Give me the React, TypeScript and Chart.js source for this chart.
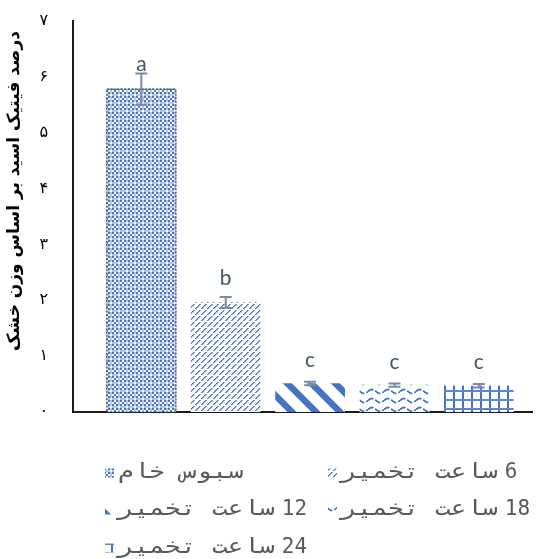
import { useEffect, useRef } from 'react';
import { Chart, registerables } from 'chart.js';

Chart.register(...registerables);

// Phytic acid content (% of dry weight) of raw bran and fermented bran
const categories = ['سبوس خام', '6 ساعت تخمیر', '12 ساعت تخمیر', '18 ساعت تخمیر', '24 ساعت تخمیر'];
const phyticAcid = [5.78, 1.96, 0.51, 0.48, 0.47];
const errors = [0.28, 0.1, 0.03, 0.03, 0.03];
const groupLetters = ['a', 'b', 'c', 'c', 'c'];
const yTickLabels = ['۰', '۱', '۲', '۳', '۴', '۵', '۶', '۷'];
const yTitle = 'درصد فیتیک اسید بر اساس وزن خشک';

const BLUE = '#4472C4';
const LIGHT = '#8FAADC';
const letterLift = [3, 12, 15, 15, 15];

function tile(w: number, h: number, paint: (g: CanvasRenderingContext2D) => void) {
  const c = document.createElement('canvas');
  c.width = w;
  c.height = h;
  const g = c.getContext('2d')!;
  g.fillStyle = '#fff';
  g.fillRect(0, 0, w, h);
  paint(g);
  return c;
}

function buildFills(ctx: CanvasRenderingContext2D): CanvasPattern[] {
  // small checker board with a light lattice
  const checker = tile(8, 8, (g) => {
    g.fillStyle = BLUE;
    for (let y = 0; y < 8; y += 2)
      for (let x = 0; x < 8; x += 2)
        if ((x / 2 + y / 2) % 2 === 0) g.fillRect(x, y, 2, 2);
    g.fillStyle = '#B4C6E8';
    g.fillRect(0, 6, 8, 2);
    g.fillRect(6, 0, 2, 8);
    g.fillStyle = '#fff';
    g.fillRect(6, 6, 2, 2);
  });
  // dashed upward diagonal
  const diag = tile(6, 6, (g) => {
    for (let i = 0; i < 6; i++) {
      if (i === 2) continue;
      g.fillStyle = BLUE;
      g.fillRect(i, 5 - i, 1, 1);
      g.fillStyle = LIGHT;
      g.fillRect((i + 1) % 6, 5 - i, 1, 1);
    }
  });
  // wide downward diagonal
  const stripe = tile(24, 24, (g) => {
    g.strokeStyle = BLUE;
    g.lineWidth = 6.5;
    for (const x0 of [-24, 0, 24]) {
      g.beginPath();
      g.moveTo(x0 - 4, -4);
      g.lineTo(x0 + 28, 28);
      g.stroke();
    }
  });
  // waves
  const wave = tile(16, 9, (g) => {
    g.strokeStyle = BLUE;
    g.lineWidth = 1.8;
    g.setLineDash([6, 2]);
    g.beginPath();
    for (let x = 0; x <= 16; x += 0.5) {
      const y = 4.5 - 2 * Math.sin((x / 16) * Math.PI * 2);
      if (x === 0) g.moveTo(x, y);
      else g.lineTo(x, y);
    }
    g.stroke();
  });
  // grid
  const grid = tile(9, 9, (g) => {
    g.fillStyle = BLUE;
    g.fillRect(3, 0, 2, 9);
    g.fillStyle = '#5A86D0';
    g.fillRect(0, 3, 9, 2);
  });
  return [checker, diag, stripe, wave, grid].map((c) => ctx.createPattern(c, 'repeat')!);
}

const decorations = {
  id: 'decorations',
  afterDatasetsDraw(chart: any) {
    const { ctx } = chart;
    const y = chart.scales.y;
    const meta = chart.getDatasetMeta(0);
    meta.data.forEach((bar: any, i: number) => {
      const v = phyticAcid[i];
      const e = errors[i];
      // dotted outline on the raw-bran bar
      if (i === 0) {
        ctx.save();
        ctx.strokeStyle = '#3a3a3a';
        ctx.lineWidth = 1.2;
        ctx.setLineDash([2, 1.5]);
        ctx.strokeRect(bar.x - bar.width / 2, bar.y, bar.width, bar.base - bar.y);
        ctx.restore();
      }
      const top = y.getPixelForValue(v + e);
      const bot = y.getPixelForValue(v - e);
      ctx.save();
      ctx.strokeStyle = '#7A8AA6';
      ctx.lineWidth = 2;
      ctx.beginPath();
      ctx.moveTo(bar.x, top);
      ctx.lineTo(bar.x, bot);
      ctx.moveTo(bar.x - 6, top);
      ctx.lineTo(bar.x + 6, top);
      ctx.moveTo(bar.x - 6, bot);
      ctx.lineTo(bar.x + 6, bot);
      ctx.stroke();
      ctx.fillStyle = '#44546A';
      ctx.font = '21px Lato';
      ctx.textAlign = 'center';
      ctx.textBaseline = 'alphabetic';
      ctx.fillText(groupLetters[i], bar.x, top - letterLift[i]);
      ctx.restore();
    });
  },
  afterDraw(chart: any) {
    const { ctx } = chart;
    // vertical axis title
    ctx.save();
    ctx.translate(15, 191);
    ctx.rotate(-Math.PI / 2);
    ctx.direction = 'rtl';
    ctx.font = 'bold 17px "DejaVu Sans"';
    ctx.fillStyle = '#000';
    ctx.textAlign = 'center';
    ctx.textBaseline = 'middle';
    ctx.fillText(yTitle, 0, 0);
    ctx.restore();

    // legend in two columns; the hour count sits to the right of the words,
    // and the Arabic words use wider monospace cells than the digits
    const fills = chart.data.datasets[0].backgroundColor;
    const colX = [105, 328];
    const rowY = [473, 510, 548];
    const wordStretch = 1.24;
    chart.data.labels.forEach((label: string, i: number) => {
      const x = colX[i % 2];
      const yy = rowY[Math.floor(i / 2)];
      const m = label.match(/^(\d+)\s+(.*)$/);
      const words = m ? m[2] : label;
      ctx.save();
      ctx.fillStyle = fills[i];
      ctx.fillRect(x, yy - 4.5, 9, 9);
      ctx.font = '21px "DejaVu Sans Mono"';
      ctx.fillStyle = '#595959';
      ctx.textAlign = 'left';
      ctx.textBaseline = 'middle';
      ctx.direction = 'rtl';
      const w = ctx.measureText(words).width * wordStretch;
      ctx.save();
      ctx.translate(x + 13, yy);
      ctx.scale(wordStretch, 1);
      ctx.fillText(words, 0, 0);
      ctx.restore();
      if (m) {
        ctx.direction = 'ltr';
        ctx.fillText(m[1], x + 13 + w + 7, yy);
      }
      ctx.restore();
    });
  },
};

export default function App() {
  const ref = useRef<HTMLCanvasElement>(null);

  useEffect(() => {
    const canvas = ref.current!;
    const ctx = canvas.getContext('2d')!;
    const fills = buildFills(ctx);
    const chart = new Chart(ctx, {
      type: 'bar',
      data: {
        labels: categories,
        datasets: [
          {
            data: phyticAcid.map((v, i) => ({ x: i, y: v })),
            backgroundColor: fills,
            borderWidth: 0,
            barThickness: 69,
          },
        ],
      },
      options: {
        responsive: false,
        devicePixelRatio: 1,
        animation: false,
        layout: { padding: { top: 21, bottom: 147, right: 8, left: 0 } },
        plugins: { legend: { display: false }, tooltip: { enabled: false } },
        scales: {
          x: {
            type: 'linear',
            offset: false,
            min: -0.81,
            max: 4.63,
            ticks: { display: false },
            grid: { display: false, drawTicks: false },
            border: { display: true, color: '#1a1a1a', width: 2 },
          },
          y: {
            min: 0,
            max: 7,
            ticks: {
              stepSize: 1,
              padding: 25,
              color: '#000',
              font: { family: 'DejaVu Sans', size: 16 },
              callback: (v: any) => yTickLabels[Number(v)],
            },
            grid: { display: false, drawTicks: false },
            border: { display: true, color: '#1a1a1a', width: 2 },
            afterFit: (scale: any) => {
              scale.width = 73;
              scale.paddingTop = 0;
              scale.paddingBottom = 0;
            },
          },
        },
      },
      plugins: [decorations],
    } as any);
    return () => chart.destroy();
  }, []);

  return (
    <div style={{ position: 'fixed', left: 0, top: 0, width: 540, height: 559, background: '#fff' }}>
      <canvas ref={ref} width={540} height={559} style={{ display: 'block', width: 540, height: 559 }} />
    </div>
  );
}
